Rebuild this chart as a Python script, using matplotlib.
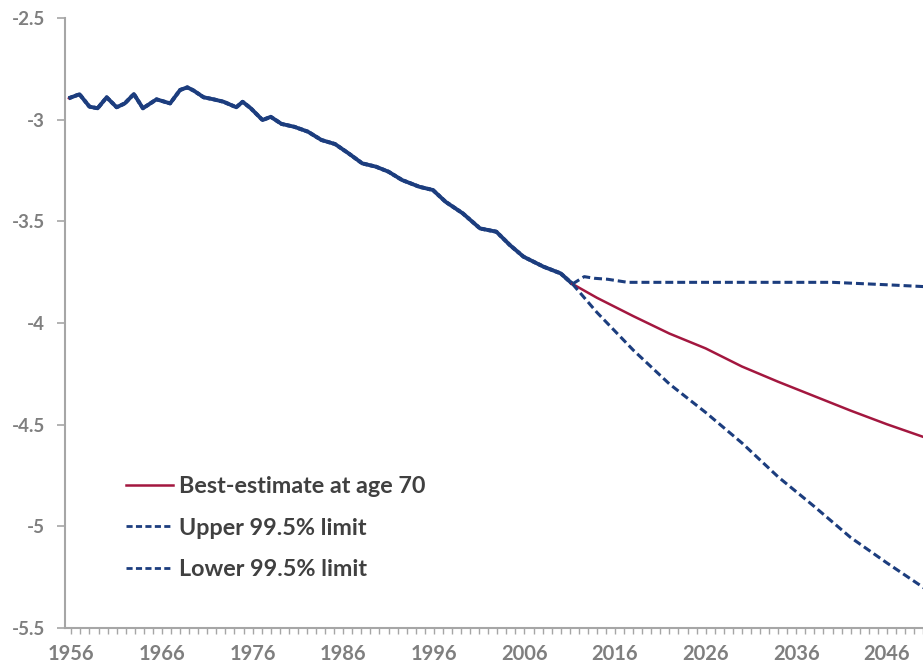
import matplotlib
matplotlib.use("Agg")
import matplotlib.pyplot as plt
from matplotlib.ticker import FixedLocator, MultipleLocator, FuncFormatter

# ---- data ----
hist_years = [1955.7, 1956.9, 1958.0, 1958.9, 1959.9, 1961.0, 1961.9, 1962.9, 1963.9,
              1965.4, 1966.9, 1968.0, 1968.8, 1969.5, 1970.6, 1971.7, 1972.8, 1974.2,
              1974.9, 1975.8, 1977.1, 1978.0, 1979.2, 1980.6, 1982.1, 1983.6, 1985.1,
              1986.6, 1988.1, 1989.6, 1991.0, 1992.5, 1994.4, 1995.9, 1997.3, 1999.2,
              2001.1, 2002.9, 2004.4, 2005.9, 2008.1, 2010.0, 2011.3]
hist_values = [-2.895, -2.875, -2.936, -2.944, -2.890, -2.939, -2.920, -2.874, -2.944,
               -2.900, -2.920, -2.854, -2.841, -2.857, -2.890, -2.900, -2.912, -2.939,
               -2.912, -2.944, -3.002, -2.986, -3.021, -3.035, -3.059, -3.100, -3.120,
               -3.166, -3.215, -3.231, -3.256, -3.297, -3.330, -3.346, -3.404, -3.461,
               -3.535, -3.551, -3.617, -3.674, -3.723, -3.756, -3.808]

proj_years = [2011.3, 2014, 2018, 2022, 2026, 2030, 2034, 2038, 2042, 2046, 2050, 2051]
best_values = [-3.808, -3.876, -3.966, -4.052, -4.125, -4.214, -4.289, -4.360,
               -4.431, -4.498, -4.560, -4.578]
lower_values = [-3.808, -3.948, -4.133, -4.300, -4.440, -4.590, -4.757, -4.903,
                -5.055, -5.180, -5.300, -5.335]

upper_years = [2011.3, 2012.6, 2013.7, 2015.2, 2017.4, 2020, 2025, 2030, 2035, 2040,
               2043, 2046, 2051]
upper_values = [-3.808, -3.772, -3.780, -3.785, -3.800, -3.800, -3.800, -3.800,
                -3.800, -3.800, -3.806, -3.812, -3.823]

x_tick_labels = [1956, 1966, 1976, 1986, 1996, 2006, 2016, 2026, 2036, 2046]
y_ticks = [-5.5, -5, -4.5, -4, -3.5, -3, -2.5]

labels = ["Best-estimate at age 70", "Upper 99.5% limit", "Lower 99.5% limit"]

# ---- style ----
RED = "#a3173f"
BLUE = "#1c3d7e"
AXIS = "#a6a6a6"
TICKTXT = "#7f7f7f"
LEGTXT = "#404040"
plt.rcParams["font.family"] = ["Lato", "DejaVu Sans"]
plt.rcParams["axes.unicode_minus"] = False

fig = plt.figure(figsize=(9.23, 6.64), dpi=100)
ax = fig.add_axes([65 / 923, 1 - 628 / 664, 1 - 65 / 923 + 0.01, (628 - 18) / 664])

dash = (0, (2.6, 1.3))
# historical part (all three series coincide)
ax.plot(hist_years, hist_values, color=RED, lw=1.8, solid_capstyle="round")
ax.plot(hist_years, hist_values, color=BLUE, lw=2.8, linestyle=(0, (2.6, 0.6)))
ax.plot(hist_years, hist_values, color=BLUE, lw=2.8, linestyle=(1.5, (2.6, 0.6)))

l1, = ax.plot(proj_years, best_values, color=RED, lw=1.8)
l2, = ax.plot(upper_years, upper_values, color=BLUE, lw=2.2, linestyle=dash)
l3, = ax.plot(proj_years, lower_values, color=BLUE, lw=2.2, linestyle=dash)

ax.set_xlim(1955.3, 2051.0)
ax.set_ylim(-5.5, -2.5)

ax.xaxis.set_major_locator(FixedLocator(x_tick_labels))
ax.xaxis.set_minor_locator(MultipleLocator(1))
ax.xaxis.set_major_formatter(FuncFormatter(lambda v, p: f"{int(round(v))}"))
ax.yaxis.set_major_locator(FixedLocator(y_ticks))
ax.yaxis.set_major_formatter(FuncFormatter(lambda v, p: f"{v:g}"))

for s in ["top", "right"]:
    ax.spines[s].set_visible(False)
for s in ["left", "bottom"]:
    ax.spines[s].set_color(AXIS)
    ax.spines[s].set_linewidth(1.5)

ax.tick_params(axis="y", which="major", direction="out", length=5.5, width=1.2,
               color=AXIS, labelcolor=TICKTXT, labelsize=13.5, pad=9)
ax.tick_params(axis="x", which="both", direction="out", length=4.5, width=1.0,
               color=AXIS, labelcolor=TICKTXT, labelsize=14.5, pad=7)
for t in ax.get_xticklabels() + ax.get_yticklabels():
    t.set_fontweight("bold")

leg = ax.legend([l1, l2, l3], labels, loc="upper left",
                bbox_to_anchor=(0.0704, 0.249), frameon=False,
                borderpad=0, borderaxespad=0,
                handlelength=2.0, handletextpad=0.28, labelspacing=0.88,
                prop={"family": ["Lato", "DejaVu Sans"], "weight": "bold", "size": 16.8})
for t in leg.get_texts():
    t.set_color(LEGTXT)
for h in leg.get_lines()[1:]:
    h.set_linestyle((0, (2.2, 1.2)))
    h.set_linewidth(2.0)

fig.savefig("out.png", dpi=100)
